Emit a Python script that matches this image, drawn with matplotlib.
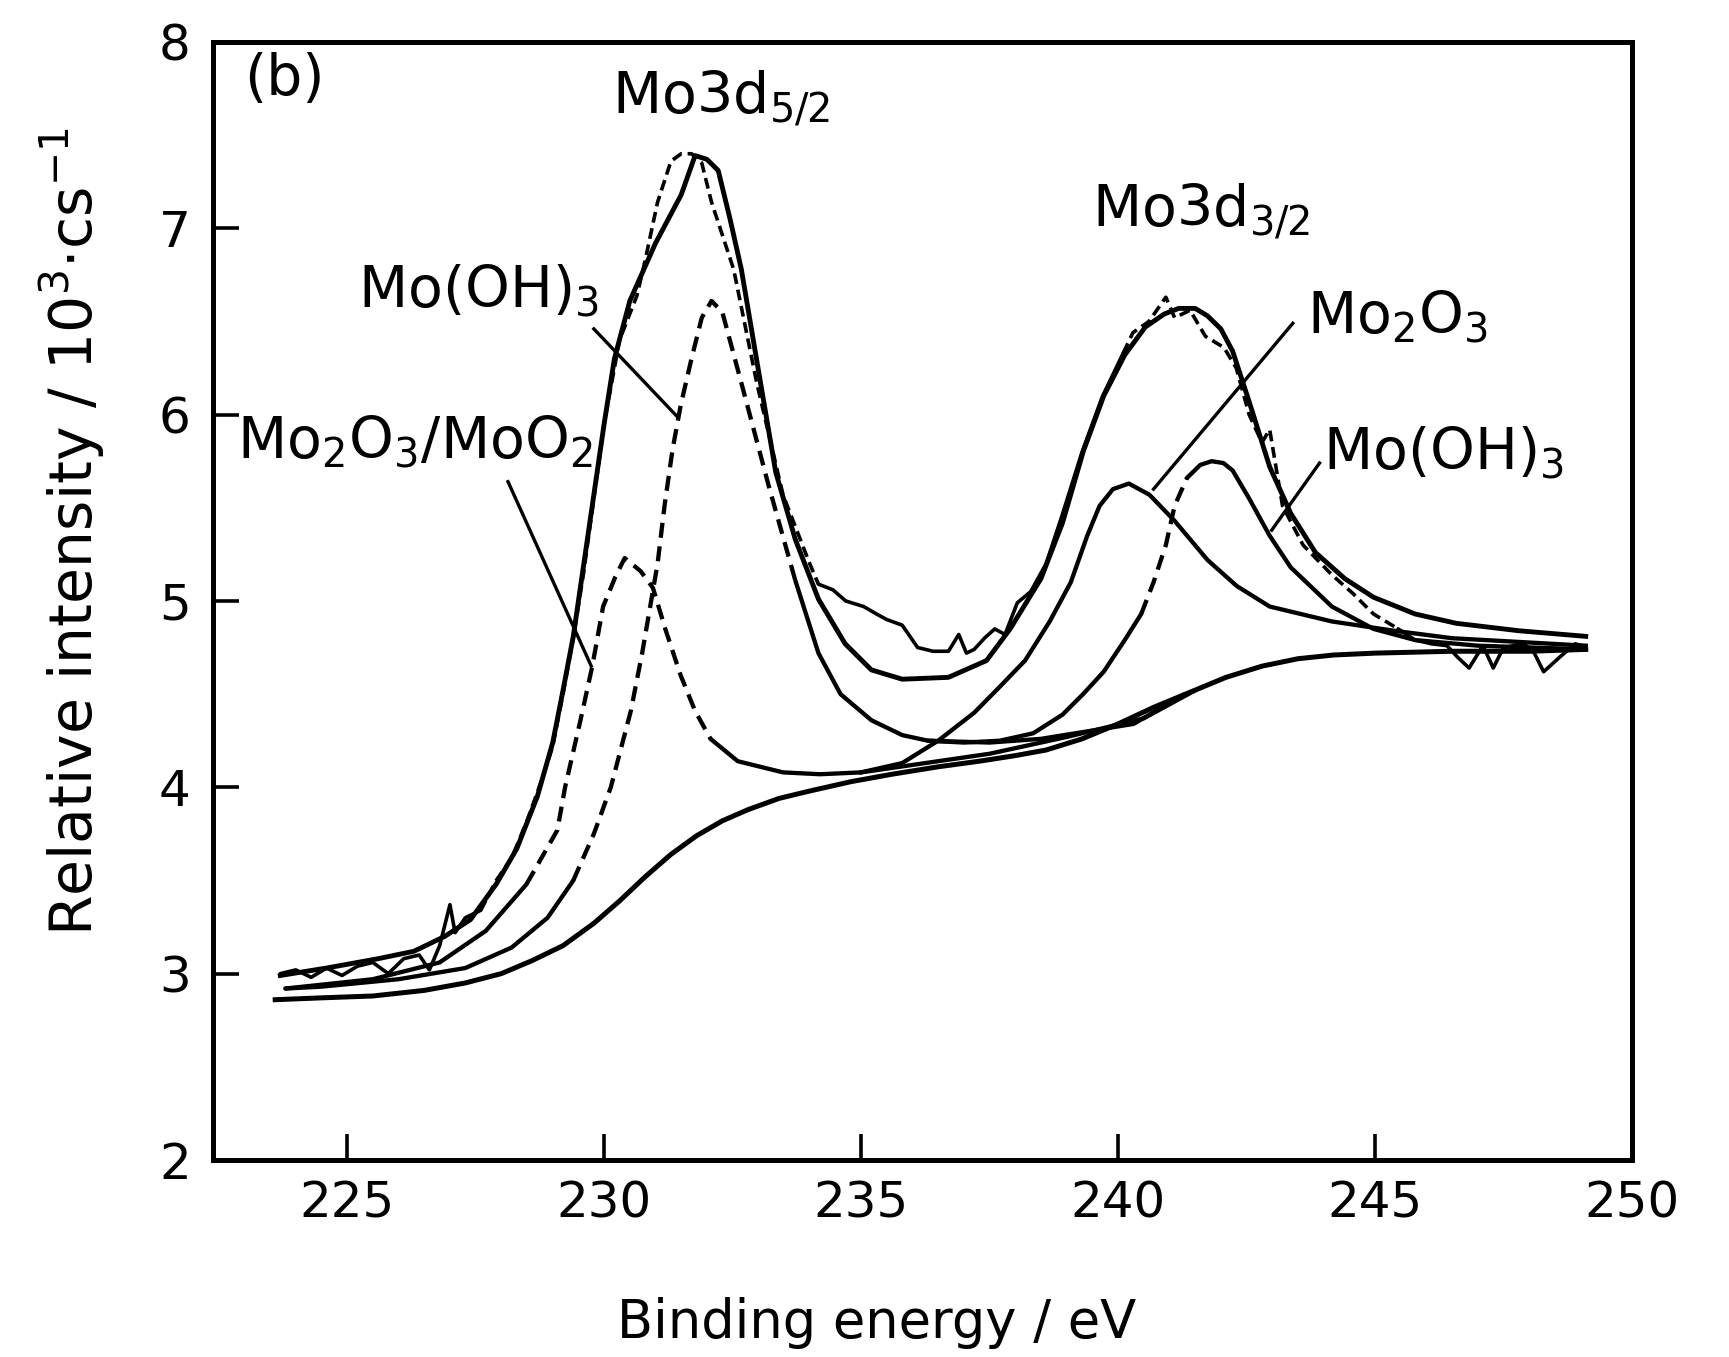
import numpy as np
import matplotlib
matplotlib.use("Agg")
import matplotlib.pyplot as plt

# ---------------- data (binding energy eV, intensity 10^3 c/s) ----------------
bg_be = [223.6, 224.5, 225.5, 226.5, 227.3, 228.0, 228.6, 229.2, 229.8, 230.3, 230.8, 231.3, 231.8,
         232.3, 232.8, 233.4, 234.0, 234.8, 235.6, 236.5, 237.3, 238.0, 238.6, 239.3, 240.0, 240.7,
         241.4, 242.1, 242.8, 243.5, 244.2, 245.0, 246.5, 248.0, 249.1]
bg_int = [2.86, 2.87, 2.88, 2.91, 2.95, 3.00, 3.07, 3.15, 3.27, 3.39, 3.52, 3.64, 3.74,
          3.82, 3.88, 3.94, 3.98, 4.03, 4.07, 4.11, 4.14, 4.17, 4.20, 4.26, 4.34, 4.43,
          4.51, 4.59, 4.65, 4.69, 4.71, 4.72, 4.73, 4.73, 4.74]

env_be = [223.7, 224.6, 225.6, 226.3, 226.9, 227.4, 227.9, 228.3, 228.7, 229.0, 229.2, 229.4, 229.6,
          229.8, 230.0, 230.2, 230.5, 231.0, 231.5, 231.77, 232.0, 232.22, 232.45, 232.67, 232.97,
          233.34, 233.72, 234.17, 234.69, 235.2, 235.8, 236.7, 237.44, 237.9, 238.5, 238.92, 239.32,
          239.72, 240.13, 240.53, 240.9, 241.18, 241.5, 241.74, 242.0, 242.23, 242.55, 242.95, 243.36,
          243.84, 244.41, 244.97, 245.78, 246.58, 247.8, 249.1]
env_int = [2.99, 3.03, 3.08, 3.12, 3.20, 3.29, 3.48, 3.67, 3.95, 4.24, 4.52, 4.81, 5.19,
           5.57, 5.95, 6.30, 6.61, 6.92, 7.18, 7.39, 7.37, 7.31, 7.05, 6.78, 6.29,
           5.69, 5.33, 5.01, 4.77, 4.63, 4.58, 4.59, 4.68, 4.85, 5.12, 5.42, 5.80,
           6.10, 6.32, 6.47, 6.54, 6.57, 6.57, 6.53, 6.46, 6.34, 6.07, 5.72, 5.47,
           5.26, 5.12, 5.02, 4.93, 4.88, 4.84, 4.81]

data_be = [223.7, 224.0, 224.3, 224.6, 224.9, 225.2, 225.5, 225.8, 226.1, 226.4, 226.6, 226.8, 227.0,
           227.1, 227.3, 227.6, 227.9, 228.2, 228.5, 228.8, 229.0, 229.2, 229.4, 229.6, 229.8, 230.0,
           230.3, 230.64, 230.8, 231.04, 231.3, 231.5, 231.7, 231.9, 232.09, 232.52, 232.97, 233.48,
           234.0, 234.17, 234.45, 234.7, 235.05, 235.3, 235.5, 235.8, 236.1, 236.4, 236.7, 236.9,
           237.05, 237.2, 237.4, 237.6, 237.8, 238.04, 238.3, 238.6, 238.9, 239.3, 239.7, 240.1,
           240.29, 240.6, 240.93, 241.1, 241.4, 241.7, 242.06, 242.3, 242.55, 242.8, 242.95, 243.2,
           243.6, 244.16, 244.57, 244.97, 245.45, 245.78, 246.1, 246.4, 246.6, 246.83, 247.1, 247.3,
           247.5, 247.9, 248.1, 248.28, 248.6, 248.9, 249.1]
data_int = [3.00, 3.02, 2.98, 3.03, 2.99, 3.04, 3.06, 3.00, 3.08, 3.10, 3.02, 3.15, 3.37,
            3.22, 3.30, 3.34, 3.50, 3.62, 3.82, 4.05, 4.22, 4.50, 4.80, 5.15, 5.55, 5.95,
            6.40, 6.64, 6.83, 7.14, 7.36, 7.40, 7.40, 7.35, 7.14, 6.78, 6.17, 5.57,
            5.20, 5.09, 5.06, 5.00, 4.97, 4.93, 4.90, 4.87, 4.75, 4.73, 4.73, 4.82,
            4.72, 4.74, 4.80, 4.85, 4.82, 4.99, 5.05, 5.20, 5.45, 5.80, 6.10, 6.33,
            6.44, 6.50, 6.63, 6.52, 6.56, 6.42, 6.36, 6.25, 6.00, 5.85, 5.92, 5.51,
            5.30, 5.14, 5.04, 4.93, 4.85, 4.79, 4.77, 4.76, 4.70, 4.64, 4.76, 4.64,
            4.75, 4.77, 4.72, 4.62, 4.70, 4.77, 4.75]

# Mo2O3/MoO2 (3d5/2)
c1_be = [223.8, 225.5, 226.8, 227.7, 228.49, 229.09, 229.24, 229.54, 229.77, 229.98, 230.22, 230.4,
         230.71, 230.95, 231.19, 231.49, 231.77, 232.07, 232.6, 233.48, 234.2, 235.0, 236.0, 237.5,
         239.0, 240.5, 241.5]
c1_int = [2.92, 2.97, 3.06, 3.23, 3.48, 3.77, 4.00, 4.36, 4.65, 4.97, 5.13, 5.23,
          5.16, 5.07, 4.85, 4.60, 4.41, 4.26, 4.14, 4.08, 4.07, 4.08, 4.12, 4.18,
          4.27, 4.37, 4.52]

# Mo(OH)3 (3d5/2)
c2_be = [223.8, 224.5, 226.0, 227.3, 228.2, 228.9, 229.4, 229.8, 230.13, 230.52, 230.74, 231.04,
         231.18, 231.33, 231.49, 231.7, 231.9, 232.09, 232.3, 232.67, 233.2, 233.72, 234.17, 234.6,
         235.2, 235.8, 236.3, 237.5, 238.5, 240.3, 241.3]
c2_int = [2.92, 2.93, 2.97, 3.03, 3.14, 3.30, 3.50, 3.75, 4.00, 4.41, 4.72, 5.20,
          5.52, 5.81, 6.05, 6.30, 6.52, 6.61, 6.55, 6.17, 5.62, 5.11, 4.72, 4.50,
          4.36, 4.28, 4.25, 4.24, 4.26, 4.34, 4.50]

# Mo2O3 (3d3/2)
c3_be = [235.0, 235.8, 236.5, 237.2, 237.7, 238.19, 238.67, 239.08, 239.4, 239.64, 239.9, 240.21,
         240.61, 241.1, 241.74, 242.31, 242.95, 244.16, 245.37, 246.5, 249.1]
c3_int = [4.08, 4.13, 4.25, 4.40, 4.54, 4.68, 4.89, 5.10, 5.35, 5.51, 5.60, 5.63,
          5.57, 5.43, 5.22, 5.08, 4.97, 4.89, 4.84, 4.80, 4.76]

# Mo(OH)3 (3d3/2)
c4_be = [236.3, 237.0, 237.7, 238.35, 238.92, 239.32, 239.72, 240.13, 240.45, 240.69, 240.93, 241.1,
         241.34, 241.6, 241.82, 242.05, 242.23, 242.55, 242.95, 243.36, 244.16, 244.97, 245.78, 247.0, 249.1]
c4_int = [4.25, 4.24, 4.25, 4.29, 4.39, 4.50, 4.62, 4.79, 4.93, 5.10, 5.30, 5.51,
          5.66, 5.73, 5.75, 5.74, 5.70, 5.55, 5.35, 5.18, 4.97, 4.85, 4.79, 4.76, 4.74]

x_ticks = [225, 230, 235, 240, 245, 250]
y_ticks = [2, 3, 4, 5, 6, 7, 8]

# ---------------- drawing ----------------
plt.rcParams['font.family'] = ['DejaVu Sans']
plt.rcParams['mathtext.fontset'] = 'dejavusans'

fig = plt.figure(figsize=(17.29, 13.57), dpi=100)
ax = fig.add_axes([0.1232, 0.1452, 0.8207, 0.8239])
ax.set_xlim(222.39, 250)
ax.set_ylim(2, 8)

LW = 3.1
K = 'black'


def mixed(x, y, dashed_ranges, lw=LW, dash=(0, (3.5, 2.0))):
    x = np.asarray(x, float)
    y = np.asarray(y, float)
    d = np.zeros(len(x), bool)
    for a, b in dashed_ranges:
        d |= (x >= a) & (x <= b)
    s = ~d
    s_ext = s.copy()
    s_ext[1:] |= s[:-1]
    s_ext[:-1] |= s[1:]
    if s_ext.any():
        ax.plot(x, np.where(s_ext, y, np.nan), color=K, lw=lw, solid_capstyle='round',
                solid_joinstyle='round')
    if d.any():
        ax.plot(x, np.where(d, y, np.nan), color=K, lw=lw, linestyle=dash)


# background and fit components
ax.plot(bg_be, bg_int, color=K, lw=LW + 0.5, solid_joinstyle='round')
mixed(c1_be, c1_int, [(228.3, 232.3)])
mixed(c2_be, c2_int, [(229.3, 234.1)])
ax.plot(c3_be, c3_int, color=K, lw=LW, solid_joinstyle='round')
mixed(c4_be, c4_int, [(240.3, 241.35)])
# envelope
ax.plot(env_be, env_int, color=K, lw=LW + 0.4, solid_joinstyle='round')
# experimental data
mixed(data_be, data_int, [(227.6, 234.2), (239.8, 245.6)], lw=2.6, dash=(0, (3, 1.6)))

# pointer lines
ptr_lines = [((229.8, 231.42), (6.46, 5.99)),
             ((228.13, 229.75), (5.64, 4.65)),
             ((240.69, 243.4), (5.60, 6.49)),
             ((242.99, 243.92), (5.38, 5.74))]
for xs, ys in ptr_lines:
    ax.plot(xs, ys, color=K, lw=2.4)

# annotations
fs_ann = 41
ax.text(223.0, 7.80, '(b)', fontsize=fs_ann, ha='left', va='center')
ax.text(230.16, 7.70, r'Mo3d$_{5/2}$', fontsize=fs_ann, ha='left', va='center')
ax.text(239.49, 7.09, r'Mo3d$_{3/2}$', fontsize=fs_ann, ha='left', va='center')
ax.text(225.22, 6.66, r'Mo(OH)$_3$', fontsize=fs_ann, ha='left', va='center')
ax.text(222.86, 5.85, r'Mo$_2$O$_3$/MoO$_2$', fontsize=fs_ann, ha='left', va='center')
ax.text(243.67, 6.52, r'Mo$_2$O$_3$', fontsize=fs_ann, ha='left', va='center')
ax.text(243.99, 5.79, r'Mo(OH)$_3$', fontsize=fs_ann, ha='left', va='center')

# axes styling
for sp in ax.spines.values():
    sp.set_linewidth(3.6)
ax.set_xticks(x_ticks)
ax.set_yticks(y_ticks)
ax.set_xticklabels([str(v) for v in x_ticks])
ax.set_yticklabels([str(v) for v in y_ticks])
ax.tick_params(direction='in', length=19, width=2.6, labelsize=36, pad=14)
ax.tick_params(axis='y', pad=16)

fig.text(0.507, 0.025, 'Binding energy / eV', fontsize=38, ha='center', va='center')
fig.text(0.0416, 0.608, r'Relative intensity / 10$^3$$\cdot$cs$^{-1}$', fontsize=42,
         ha='center', va='center', rotation=90)

fig.savefig('out.png', dpi=100)
